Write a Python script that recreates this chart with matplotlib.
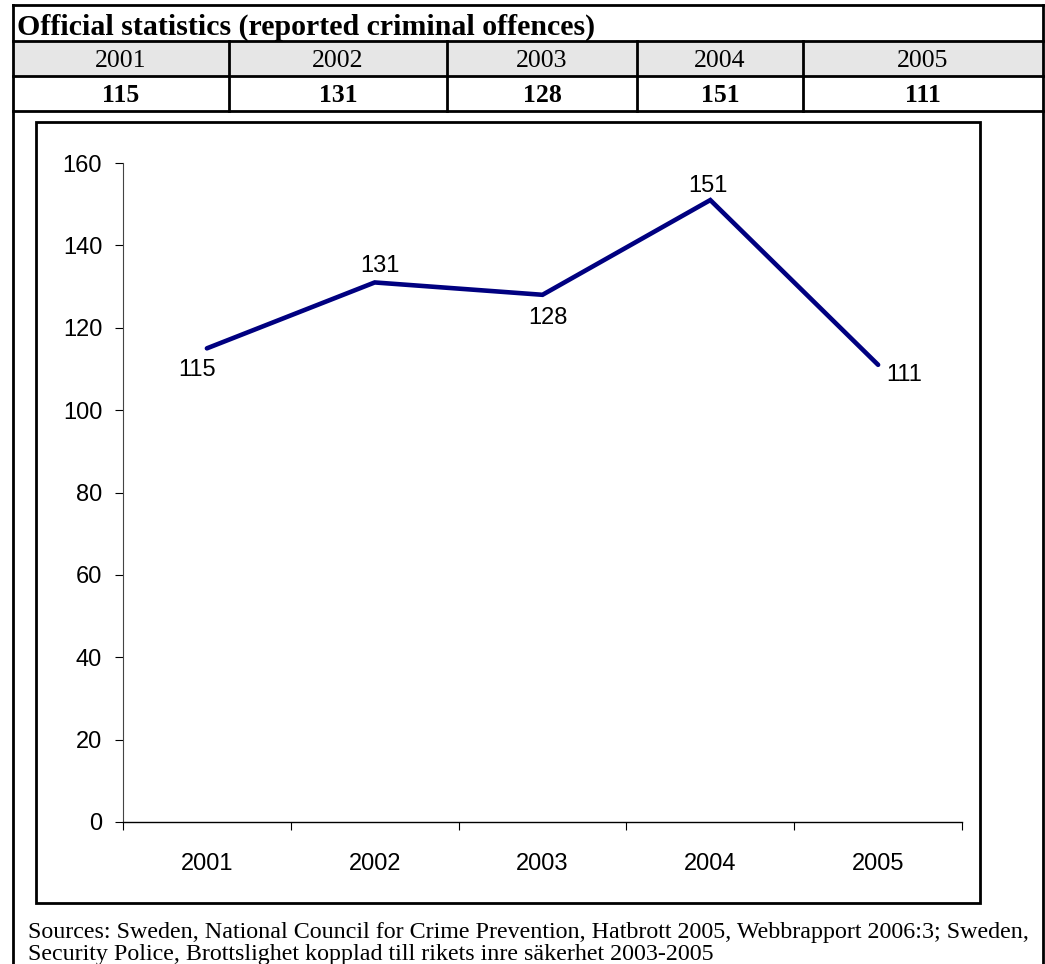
import matplotlib
matplotlib.use("Agg")
import matplotlib.pyplot as plt
from matplotlib.patches import Rectangle
from matplotlib.lines import Line2D

# Reported criminal offences per year
YEARS = ["2001", "2002", "2003", "2004", "2005"]
OFFENCES = [115, 131, 128, 151, 111]
TABLE_TITLE = "Official statistics (reported criminal offences)"
SOURCE_LINES = [
    "Sources: Sweden, National Council for Crime Prevention, Hatbrott 2005, Webbrapport 2006:3; Sweden,",
    "Security Police, Brottslighet kopplad till rikets inre säkerhet 2003-2005",
]
# label offsets from each point in px (dx, dy), plus horizontal alignment
LABEL_POS = [(-10, -22, "center"), (5, 16, "center"), (5, -23, "center"),
             (-2, 14, "center"), (8, -10, "left")]

W, H = 1045, 964
SERIF = "Liberation Serif"
SANS = "Liberation Sans"

fig = plt.figure(figsize=(W / 100, H / 100), dpi=100)


def fx(x):
    return x / W


def fy(y):
    return 1 - y / H


def hline(x0, x1, y, lw=2):
    fig.add_artist(Line2D([fx(x0), fx(x1)], [fy(y), fy(y)], color="black", lw=lw,
                          solid_capstyle="projecting"))


def vline(x, y0, y1, lw=2):
    fig.add_artist(Line2D([fx(x), fx(x)], [fy(y0), fy(y1)], color="black", lw=lw,
                          solid_capstyle="projecting"))


# --- summary table ---
left, right = 13, 1043
rows = [5, 41, 76, 111]
cols = [13, 229, 447, 637, 803, 1043]

fig.add_artist(Rectangle((fx(left), fy(rows[2])), fx(right - left), (rows[2] - rows[1]) / H,
                         facecolor="#e6e6e6", edgecolor="none"))
for y in rows:
    hline(left, right, y)
vline(left, rows[0], H + 5)
vline(right, rows[0], H + 5)
for x in cols[1:-1]:
    vline(x, rows[1], rows[3])

fig.text(fx(17), fy(35), TABLE_TITLE, family=SERIF,
         fontsize=21.5, fontweight="bold", ha="left", va="baseline")
for i, (yr, val) in enumerate(zip(YEARS, OFFENCES)):
    cx = (cols[i] + cols[i + 1]) / 2
    fig.text(fx(cx), fy(67), yr, family=SERIF,
             fontsize=18.5, ha="center", va="baseline")
    fig.text(fx(cx), fy(102), str(val), family=SERIF,
             fontsize=18.5, fontweight="bold", ha="center", va="baseline")

# --- chart frame ---
bx0, by0, bx1, by1 = 36, 122, 980, 903
fig.add_artist(Rectangle((fx(bx0), fy(by1)), fx(bx1 - bx0), (by1 - by0) / H,
                         facecolor="white", edgecolor="black", lw=2, zorder=0.5))

# --- line chart ---
ax_l, ax_r, ax_t, ax_b = 123, 962, 163, 822
ax = fig.add_axes([fx(ax_l), fy(ax_b), fx(ax_r - ax_l), (ax_b - ax_t) / H])
ax.set_zorder(2)
ax.patch.set_alpha(0)
xs = list(range(len(YEARS)))
ax.plot(xs, OFFENCES, color="#000080", lw=3.3, solid_joinstyle="miter",
        solid_capstyle="round", clip_on=False)
ax.set_xlim(-0.5, len(YEARS) - 0.5)
ax.set_ylim(0, 160)
ax.set_yticks(range(0, 161, 20))
ax.set_xticks([i - 0.5 for i in range(len(YEARS) + 1)])
ax.set_xticklabels([])
ax.set_xticks(xs, minor=True)
ax.set_xticklabels(YEARS, minor=True)
ax.tick_params(axis="x", which="major", length=6, width=0.8, direction="out")
ax.tick_params(axis="x", which="minor", length=0, pad=22)
ax.tick_params(axis="y", length=6, width=0.8, direction="out", pad=9)
for lab in ax.get_yticklabels() + ax.get_xticklabels(minor=True):
    lab.set_family(SANS)
    lab.set_fontsize(17)
for s in ("top", "right"):
    ax.spines[s].set_visible(False)
ax.spines["left"].set_color("#444444")
ax.spines["left"].set_linewidth(0.8)
ax.spines["bottom"].set_linewidth(1.0)

for x, v, (dx, dy, ha) in zip(xs, OFFENCES, LABEL_POS):
    ax.annotate(str(v), (x, v), xytext=(dx * 0.72, dy * 0.72), textcoords="offset points",
                ha=ha, va="center", family=SANS, fontsize=17)

# --- sources ---
fig.text(fx(28), fy(938), SOURCE_LINES[0], family=SERIF, fontsize=17.3,
         ha="left", va="baseline")
fig.text(fx(28), fy(960), SOURCE_LINES[1], family=SERIF, fontsize=17.3,
         ha="left", va="baseline")

fig.savefig("out.png", dpi=100)
